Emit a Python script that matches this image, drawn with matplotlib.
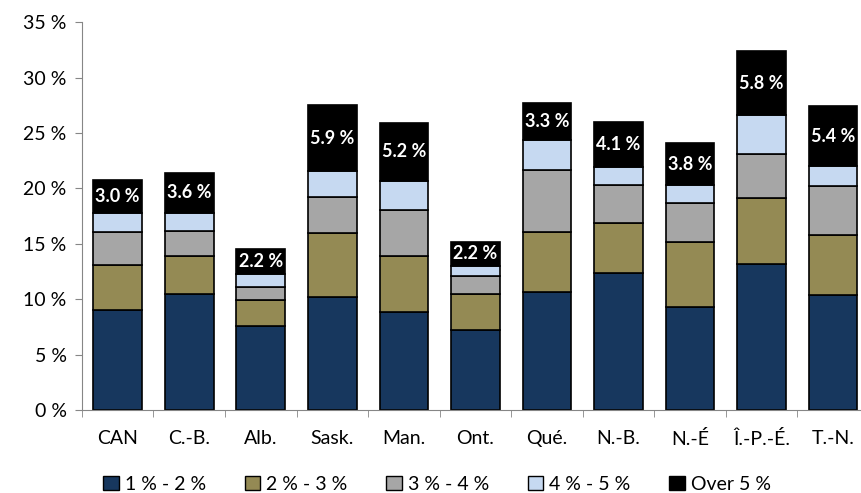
import numpy as np
import matplotlib.pyplot as plt
from matplotlib.patches import Patch

plt.rcParams['font.family'] = ['Lato', 'DejaVu Sans']

provinces = ['CAN', 'C.-B.', 'Alb.', 'Sask.', 'Man.', 'Ont.', 'Qué.', 'N.-B.', 'N.-É', 'Î.-P.-É.', 'T.-N.']
band_labels = ['1 % - 2 %', '2 % - 3 %', '3 % - 4 %', '4 % - 5 %', 'Over 5 %']

b1_2 = [9.0, 10.5, 7.6, 10.2, 8.9, 7.2, 10.7, 12.4, 9.3, 13.2, 10.4]
b2_3 = [4.1, 3.4, 2.3, 5.8, 5.0, 3.3, 5.4, 4.5, 5.9, 5.9, 5.4]
b3_4 = [3.0, 2.3, 1.2, 3.2, 4.2, 1.6, 5.6, 3.4, 3.5, 4.0, 4.4]
b4_5 = [1.7, 1.6, 1.2, 2.4, 2.6, 0.9, 2.7, 1.6, 1.6, 3.5, 1.8]
over5 = [3.0, 3.6, 2.2, 5.9, 5.2, 2.2, 3.3, 4.1, 3.8, 5.8, 5.4]

colors = ['#17375E', '#948A54', '#A6A6A6', '#C6D9F1', '#000000']

fig, ax = plt.subplots(figsize=(8.62, 4.93), dpi=100)
fig.subplots_adjust(left=0.095, right=1.008, top=0.955, bottom=0.168)

x = np.arange(len(provinces))
bottom = np.zeros(len(provinces))
series = [b1_2, b2_3, b3_4, b4_5, over5]
for vals, c in zip(series, colors):
    ax.bar(x, vals, width=0.68, bottom=bottom, color=c, edgecolor='black', linewidth=1.2)
    bottom += np.array(vals)

# labels in the black segment
base = bottom - np.array(over5)
for i, v in enumerate(over5):
    ax.text(x[i], base[i] + v / 2, f'{v:.1f} %', ha='center', va='center',
            color='white', fontsize=13, fontweight='bold')

ax.set_ylim(0, 35)
ax.set_xlim(-0.5, len(provinces) - 0.5)
ax.set_yticks(range(0, 36, 5))
ax.set_yticklabels([f'{t} %' for t in range(0, 36, 5)], fontsize=14)
ax.set_xticks(x)
ax.set_xticklabels(provinces, fontsize=14)
ax.tick_params(axis='x', length=0, pad=14)
ax.set_xticks(np.arange(-0.5, len(provinces), 1), minor=True)
ax.tick_params(axis='x', which='minor', length=5, color='#868686')
ax.tick_params(axis='y', length=5, color='#868686', pad=6)

for s in ['top', 'right']:
    ax.spines[s].set_visible(False)
for s in ['left', 'bottom']:
    ax.spines[s].set_color('#868686')

handles = [Patch(facecolor=c, edgecolor='black', label=l) for c, l in zip(colors, band_labels)]
fig.legend(handles=handles, loc='lower center', ncol=5, frameon=False, fontsize=14,
           bbox_to_anchor=(0.507, -0.035), handlelength=0.8, handleheight=0.8,
           handletextpad=0.3, columnspacing=2.0)

plt.savefig('out.png', dpi=100)
